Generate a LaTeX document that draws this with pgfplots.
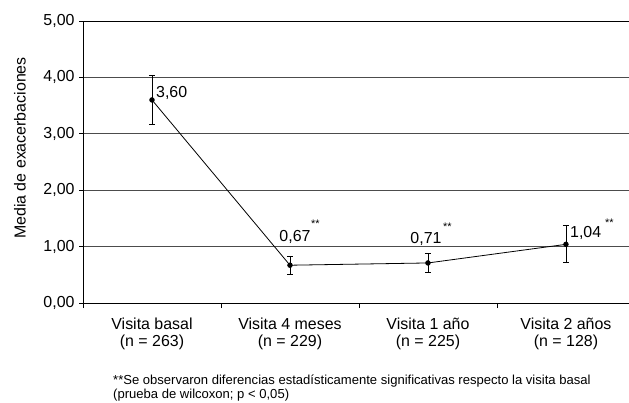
\documentclass[border=0pt]{standalone}
\usepackage{pgfplots}
\pgfplotsset{compat=1.18}
\usepackage{fontspec}
\setmainfont{Liberation Sans}
\newcommand{\fs}[1]{\fontsize{#1}{#1}\selectfont}
\begin{document}
\begin{tikzpicture}[x=1bp,y=1bp]
\useasboundingbox (0,0) rectangle (629,402);
\begin{axis}[
  at={(83bp,99bp)}, anchor=south west,
  scale only axis, width=546bp, height=282bp,
  xmin=-0.5, xmax=3.457, ymin=0, ymax=5,
  axis x line*=bottom, axis y line*=left,
  axis line style={black, line width=0.8bp, -},
  tick align=outside, tick pos=left,
  xtick={0,1,2,3},
  xticklabels={{Visita basal\\(n = 263)},{Visita 4 meses\\(n = 229)},{Visita 1 año\\(n = 225)},{Visita 2 años\\(n = 128)}},
  major x tick style={draw=none},
  minor xtick={-0.5,0.5,1.5,2.5},
  minor x tick style={black, line width=0.8bp},
  major tick length=4bp, minor tick length=5bp,
  ytick={0,1,2,3,4,5},
  y tick style={black, line width=0.8bp},
  ymajorgrids,
  major grid style={black!70, line width=1bp},
  xticklabel style={align=center, font=\fontsize{16}{17}\selectfont, yshift=-7bp},
  yticklabel style={font=\fs{16}, xshift=-1bp},
  /pgf/number format/.cd, fixed, fixed zerofill, precision=2, use comma, assume math mode=true,
]
\addplot[black, line width=0.8bp, mark=*, mark size=2.3bp,
  error bars/.cd, y dir=both, y explicit,
  error bar style={black, line width=0.9bp},
  error mark options={rotate=90, mark size=3bp, line width=0.9bp}]
  coordinates {
  (0,3.60) += (0,0.43) -= (0,0.44)
  (1,0.67) += (0,0.15) -= (0,0.16)
  (2,0.71) += (0,0.17) -= (0,0.17)
  (3,1.04) += (0,0.33) -= (0,0.32)
  };
\draw[black, line width=0.8bp] (rel axis cs:0,1) -- (rel axis cs:1,1);
\node[anchor=west, font=\fs{16}, inner sep=0pt] at ([xshift=4bp,yshift=7bp]axis cs:0,3.60) {3,60};
\node[anchor=center, font=\fs{16}, inner sep=0pt] at ([xshift=5bp,yshift=28bp]axis cs:1,0.67) {0,67};
\node[anchor=west, inner sep=0pt] at ([xshift=21bp,yshift=41bp]axis cs:1,0.67) {\fontsize{11}{11}\selectfont **};
\node[anchor=center, font=\fs{16}, inner sep=0pt] at ([xshift=-2bp,yshift=24bp]axis cs:2,0.71) {0,71};
\node[anchor=west, inner sep=0pt] at ([xshift=15bp,yshift=36bp]axis cs:2,0.71) {\fontsize{11}{11}\selectfont **};
\node[anchor=west, font=\fs{16}, inner sep=0pt] at ([xshift=4bp,yshift=11bp]axis cs:3,1.04) {1,04};
\node[anchor=west, inner sep=0pt] at ([xshift=39bp,yshift=22bp]axis cs:3,1.04) {\fontsize{11}{11}\selectfont **};
\end{axis}
\node[rotate=90, font=\fs{16}, anchor=center] at (20,254) {Media de exacerbaciones};
\node[anchor=base west, font=\fs{13.1}, inner sep=0pt] at (113,17.5) {**Se observaron diferencias estadísticamente significativas respecto la visita basal};
\node[anchor=base west, font=\fs{13.1}, inner sep=0pt] at (113,4) {(prueba de wilcoxon; p < 0,05)};
\end{tikzpicture}
\end{document}
